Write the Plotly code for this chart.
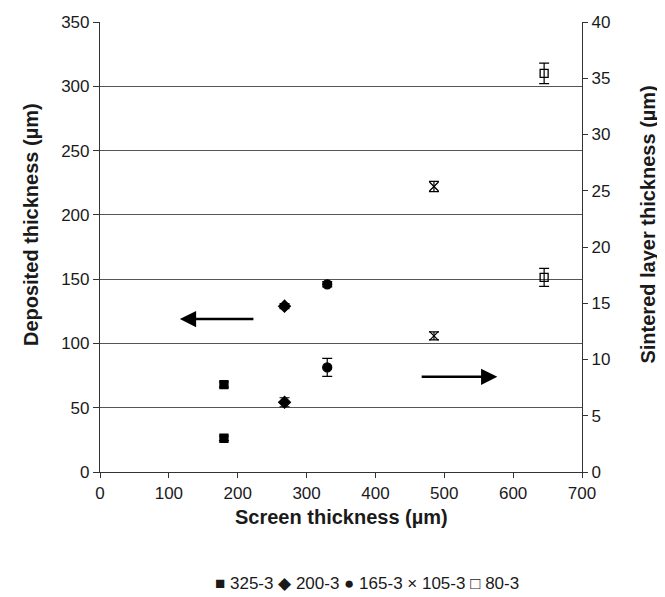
import plotly.graph_objects as go

series_names = ["325-3", "200-3", "165-3", "105-3", "80-3"]
legend_glyphs = ["■", "◆", "●", "×", "□"]
screen_thickness = [180, 268, 330, 485, 645]
deposited = [68, 129, 146, 222, 310]
deposited_err = [2, 2, 2, 4, 8]
sintered = [3.0, 6.2, 9.3, 12.1, 17.3]
sintered_err = [0.2, 0.4, 0.8, 0.35, 0.8]
symbols = ["square", "diamond", "circle", "x-thin", "square-open"]
sizes = [8, 9, 9, 9, 8]

x_ticks = [0, 100, 200, 300, 400, 500, 600, 700]
left_ticks = [0, 50, 100, 150, 200, 250, 300, 350]
right_ticks = [0, 5, 10, 15, 20, 25, 30, 35, 40]

fig = go.Figure()
for i, name in enumerate(series_names):
    mk = dict(symbol=symbols[i], size=sizes[i], color="black",
              line=dict(color="black", width=1.3))
    eb = dict(type="data", thickness=1.2, width=5, color="black")
    fig.add_trace(go.Scatter(
        x=[screen_thickness[i]], y=[deposited[i]], mode="markers",
        name=name, legendgroup=name, showlegend=False, marker=mk,
        error_y=dict(array=[deposited_err[i]], **eb), yaxis="y"))
    fig.add_trace(go.Scatter(
        x=[screen_thickness[i]], y=[sintered[i]], mode="markers",
        name=name, legendgroup=name, showlegend=False, marker=mk,
        error_y=dict(array=[sintered_err[i]], **eb), yaxis="y2"))

legend_text = " ".join(f"{g} {n}" for g, n in zip(legend_glyphs, series_names))

font = "Liberation Sans, Arial, sans-serif"
fig.update_layout(
    width=657, height=589,
    margin=dict(l=92, r=83, t=14, b=125, autoexpand=False),
    paper_bgcolor="white", plot_bgcolor="white",
    font=dict(family=font, size=17, color="#1a1a1a"),
    showlegend=False,
    xaxis=dict(range=[0, 700], tickvals=x_ticks, showgrid=False, automargin=False,
               showline=True, linecolor="#333", linewidth=1.2,
               ticks="outside", ticklen=5, tickcolor="#333", zeroline=False),
    yaxis=dict(range=[0, 350], tickvals=left_ticks, showgrid=True, automargin=False,
               gridcolor="#555", gridwidth=1.2,
               showline=True, linecolor="#333", linewidth=1.2,
               ticks="outside", ticklen=6, tickcolor="#333", zeroline=False),
    yaxis2=dict(range=[0, 40], tickvals=right_ticks, overlaying="y", side="right",
                automargin=False,
                showgrid=False, showline=True, linecolor="#333", linewidth=1.2,
                ticks="outside", ticklen=5, tickcolor="#333", zeroline=False),
    annotations=[
        dict(x=116, y=119, ax=225, ay=119, xref="x", yref="y", axref="x", ayref="y",
             showarrow=True, arrowhead=2, arrowsize=1.3, arrowwidth=2.5, arrowcolor="black", text=""),
        dict(x=577, y=74, ax=465, ay=74, xref="x", yref="y", axref="x", ayref="y",
             showarrow=True, arrowhead=2, arrowsize=1.3, arrowwidth=2.5, arrowcolor="black", text=""),
        dict(text="<b>Screen thickness (µm)</b>", xref="paper", yref="paper",
             x=0.5, y=-0.1, xanchor="center", yanchor="middle",
             showarrow=False, font=dict(size=20)),
        dict(text="<b>Deposited thickness (µm)</b>", xref="paper", yref="paper",
             x=-0.142, y=0.55, xanchor="center", yanchor="middle", textangle=-90,
             showarrow=False, font=dict(size=20)),
        dict(text="<b>Sintered layer thickness (µm)</b>", xref="paper", yref="paper",
             x=1.137, y=0.55, xanchor="center", yanchor="middle", textangle=-90,
             showarrow=False, font=dict(size=20)),
        dict(text=legend_text, xref="paper", yref="paper",
             x=0.554, y=-0.247, xanchor="center", yanchor="middle",
             showarrow=False, font=dict(size=17)),
    ],
)
fig.write_html("out.html")
